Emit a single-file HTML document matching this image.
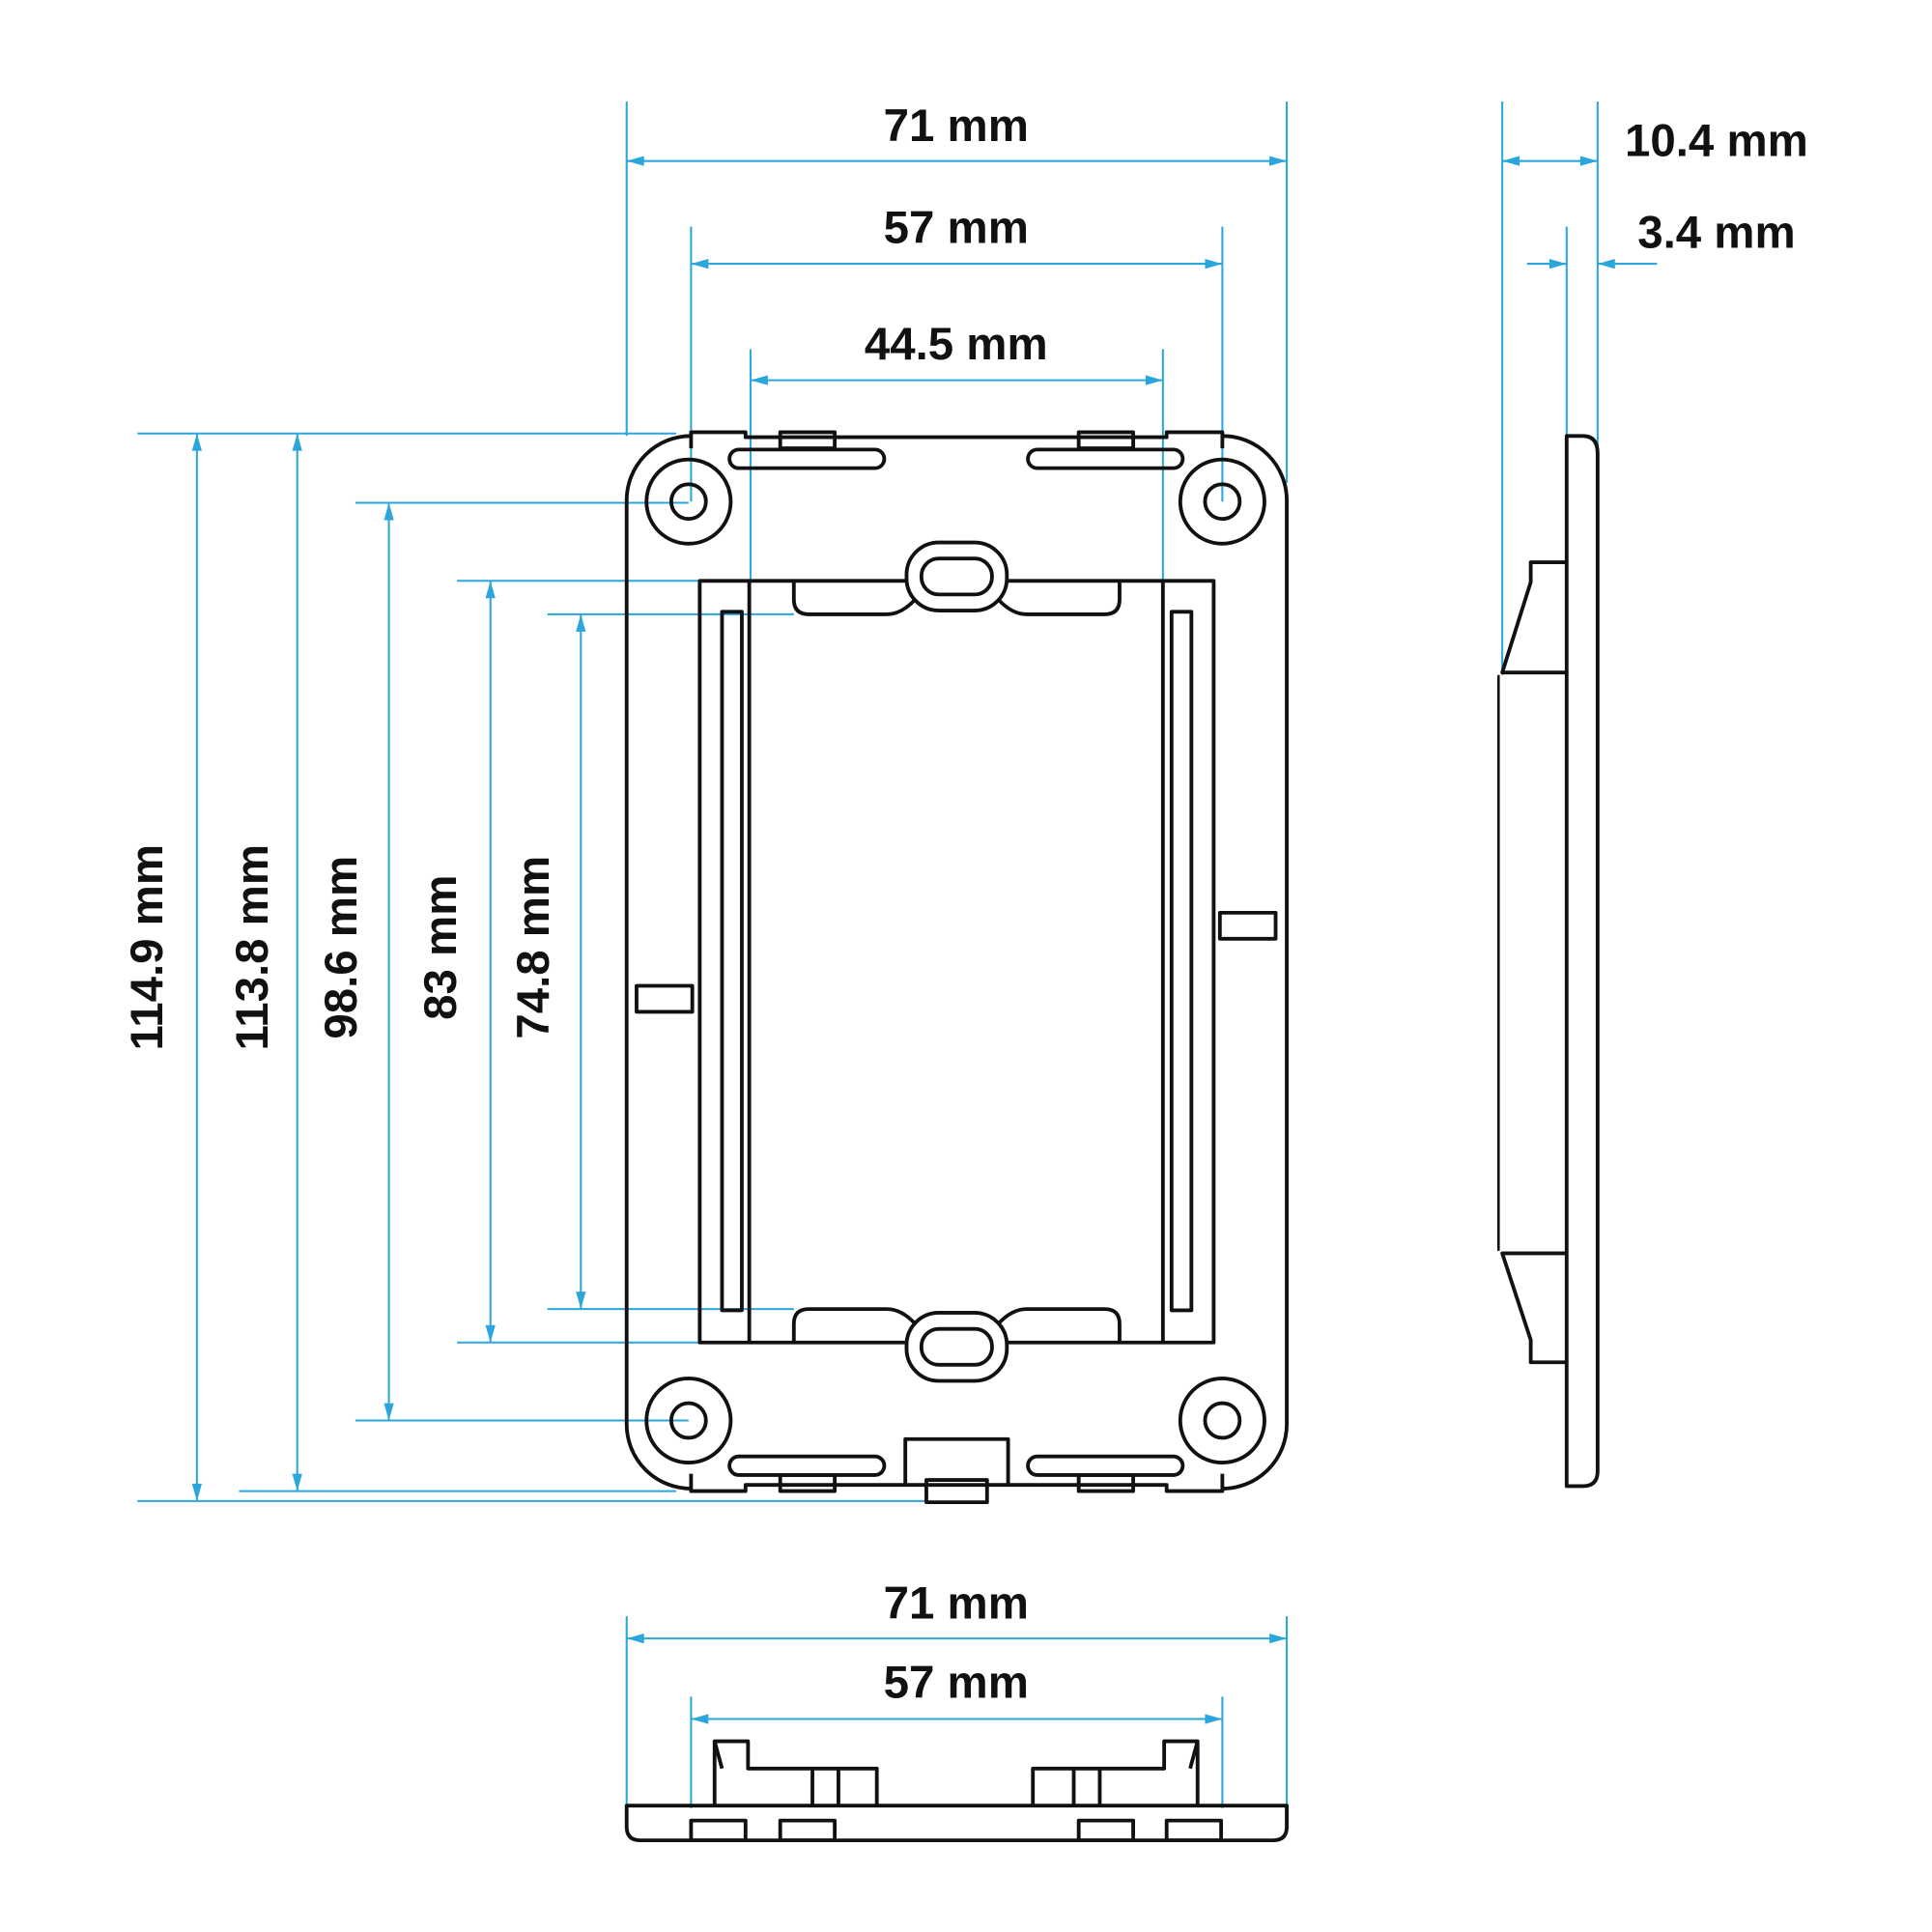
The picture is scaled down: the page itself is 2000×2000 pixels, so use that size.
<!DOCTYPE html>
<html><head><style>html,body{margin:0;padding:0;background:#fff}svg{display:block}</style></head>
<body>
<svg width="2000" height="2000" viewBox="0 0 1560 1560" xmlns="http://www.w3.org/2000/svg">
<g transform="translate(-2,0)">
<g stroke="#2aa6dc" stroke-width="1.6" fill="none">
<line x1="508" y1="82" x2="508" y2="352"/><line x1="1041" y1="82" x2="1041" y2="390"/>
<line x1="508" y1="130" x2="1041" y2="130"/>
<line x1="560" y1="183" x2="560" y2="405"/><line x1="989" y1="183" x2="989" y2="405"/>
<line x1="560" y1="213" x2="989" y2="213"/>
<line x1="608" y1="282" x2="608" y2="469"/><line x1="941" y1="282" x2="941" y2="469"/>
<line x1="608" y1="307" x2="941" y2="307"/>
<line x1="113" y1="350" x2="548" y2="350"/><line x1="113" y1="1212" x2="750" y2="1212"/>
<line x1="161" y1="350" x2="161" y2="1212"/>
<line x1="195" y1="1204" x2="548" y2="1204"/>
<line x1="242" y1="350" x2="242" y2="1204"/>
<line x1="289" y1="406" x2="558" y2="406"/><line x1="289" y1="1147" x2="558" y2="1147"/>
<line x1="316" y1="406" x2="316" y2="1147"/>
<line x1="371" y1="469" x2="567" y2="469"/><line x1="371" y1="1084" x2="567" y2="1084"/>
<line x1="398" y1="469" x2="398" y2="1084"/>
<line x1="444" y1="496" x2="643" y2="496"/><line x1="444" y1="1057" x2="643" y2="1057"/>
<line x1="471" y1="496" x2="471" y2="1057"/>
<line x1="1215" y1="82" x2="1215" y2="545"/><line x1="1292" y1="82" x2="1292" y2="360"/>
<line x1="1215" y1="130" x2="1292" y2="130"/>
<line x1="1267" y1="183" x2="1267" y2="355"/>
<line x1="1235" y1="213" x2="1267" y2="213"/><line x1="1292" y1="213" x2="1340" y2="213"/>
<line x1="508" y1="1305" x2="508" y2="1460"/><line x1="1041" y1="1305" x2="1041" y2="1460"/>
<line x1="508" y1="1323" x2="1041" y2="1323"/>
<line x1="560" y1="1370" x2="560" y2="1460"/><line x1="989" y1="1370" x2="989" y2="1460"/>
<line x1="560" y1="1388" x2="989" y2="1388"/>
</g>
<g fill="#2aa6dc">
<path d="M508,130l14,-4v8z"/><path d="M1041,130l-14,-4v8z"/>
<path d="M560,213l14,-4v8z"/><path d="M989,213l-14,-4v8z"/>
<path d="M608,307l14,-4v8z"/><path d="M941,307l-14,-4v8z"/>
<path d="M1215,130l14,-4v8z"/><path d="M1292,130l-14,-4v8z"/>
<path d="M1267,213l-14,-4v8z"/><path d="M1292,213l14,-4v8z"/>
<path d="M508,1323l14,-4v8z"/><path d="M1041,1323l-14,-4v8z"/>
<path d="M560,1388l14,-4v8z"/><path d="M989,1388l-14,-4v8z"/>
<path d="M161,350l-4,14h8z"/><path d="M161,1212l-4,-14h8z"/>
<path d="M242,350l-4,14h8z"/><path d="M242,1204l-4,-14h8z"/>
<path d="M316,406l-4,14h8z"/><path d="M316,1147l-4,-14h8z"/>
<path d="M398,469l-4,14h8z"/><path d="M398,1084l-4,-14h8z"/>
<path d="M471,496l-4,14h8z"/><path d="M471,1057l-4,-14h8z"/>
</g>
<g font-family="Liberation Sans, sans-serif" font-weight="bold" font-size="37" fill="#111" text-anchor="middle">
<text x="774" y="114">71 mm</text>
<text x="774" y="196">57 mm</text>
<text x="774" y="290">44.5 mm</text>
<text x="1388" y="126">10.4 mm</text>
<text x="1388" y="200">3.4 mm</text>
<text x="774" y="1307">71 mm</text>
<text x="774" y="1371">57 mm</text>
<text transform="translate(133,765) rotate(-90)">114.9 mm</text>
<text transform="translate(218,765) rotate(-90)">113.8 mm</text>
<text transform="translate(290,765) rotate(-90)">98.6 mm</text>
<text transform="translate(370,765) rotate(-90)">83 mm</text>
<text transform="translate(445,765) rotate(-90)">74.8 mm</text>
</g>
<g stroke="#111" stroke-width="3" fill="none" stroke-linejoin="round">
<path d="M560,362 V349 H604 V353 H944 V349 H989 V362"/>
<path d="M989,352 A52,52 0 0 1 1041,404 V1150 A52,52 0 0 1 989,1202"/>
<path d="M989,1190 V1204 H944 V1199 H816"/>
<path d="M733,1199 H604 V1204 H560 V1190"/>
<path d="M560,1202 A52,52 0 0 1 508,1150 V404 A52,52 0 0 1 560,352"/>
<circle cx="558" cy="405" r="34"/><circle cx="558" cy="405" r="14"/>
<circle cx="989" cy="405" r="34"/><circle cx="989" cy="405" r="14"/>
<circle cx="558" cy="1147" r="34"/><circle cx="558" cy="1147" r="14"/>
<circle cx="989" cy="1147" r="34"/><circle cx="989" cy="1147" r="14"/>
<rect x="591" y="363" width="125" height="15" rx="7.5"/>
<rect x="832" y="363" width="125" height="15" rx="7.5"/>
<rect x="591" y="1176" width="125" height="15" rx="7.5"/>
<rect x="832" y="1176" width="125" height="15" rx="7.5"/>
<rect x="632" y="349" width="44" height="13"/><rect x="873" y="349" width="44" height="13"/>
<rect x="632" y="1191" width="44" height="13"/><rect x="873" y="1191" width="44" height="13"/>
<rect x="733" y="1162" width="83" height="37"/>
<rect x="750" y="1195" width="49" height="18"/>
<rect x="516" y="796" width="45" height="21"/>
<rect x="987" y="737" width="45" height="21"/>
<rect x="567" y="469" width="415" height="615"/>
<line x1="607" y1="469" x2="607" y2="1084"/><line x1="941" y1="469" x2="941" y2="1084"/>
<rect x="585" y="494" width="16" height="564"/>
<rect x="948" y="494" width="16" height="564"/>
<!-- top boss -->
<rect x="734" y="438" width="81" height="55" rx="26" fill="#fff"/>
<rect x="746" y="451" width="57" height="29" rx="14"/>
<path d="M643,469 V484 Q643,496 655,496 H718 Q730,496 741,484"/>
<path d="M906,469 V484 Q906,496 894,496 H831 Q819,496 808,484"/>
<!-- bottom boss -->
<rect x="734" y="1060" width="81" height="55" rx="26" fill="#fff"/>
<rect x="746" y="1073" width="57" height="29" rx="14"/>
<path d="M643,1084 V1069 Q643,1057 655,1057 H718 Q730,1057 741,1069"/>
<path d="M906,1084 V1069 Q906,1057 894,1057 H831 Q819,1057 808,1069"/>
<!-- side view -->
<path d="M1267,1200 V352 H1280 Q1292,352 1292,366 V1188 Q1292,1200 1280,1200 Z"/>
<path d="M1267,454 H1238 V470 L1215,543 H1267"/>
<path d="M1267,1012 H1215 L1238,1082 V1100 H1267"/>
<line x1="1212" y1="545" x2="1212" y2="1010" stroke-width="2"/>
<!-- bottom view -->
<path d="M508,1458 H1041 V1475 Q1041,1486 1030,1486 H519 Q508,1486 508,1475 Z"/>
<rect x="560" y="1470" width="44" height="16"/>
<rect x="632" y="1470" width="44" height="16"/>
<rect x="873" y="1470" width="44" height="16"/>
<rect x="944" y="1470" width="44" height="16"/>
<path d="M579,1458 V1406 H606 V1428 H710 V1458"/>
<path d="M579,1406 L585,1428"/>
<line x1="679" y1="1428" x2="679" y2="1458"/>
<path d="M969,1458 V1406 H942 V1428 H836 V1458"/>
<path d="M969,1406 L963,1428"/>
<line x1="869" y1="1428" x2="869" y2="1458"/>
<line x1="890" y1="1428" x2="890" y2="1458"/>
<line x1="658" y1="1428" x2="658" y2="1458"/>
</g>
</g>
</svg>
</body></html>
